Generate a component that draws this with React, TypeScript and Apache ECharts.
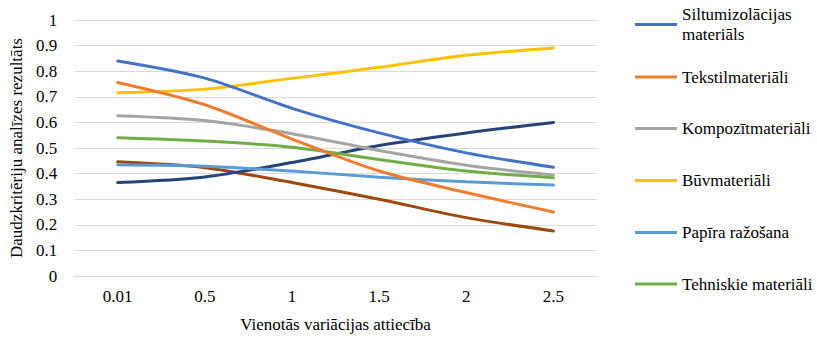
import React, { useEffect, useRef } from "react";
import * as echarts from "echarts";

const categories = ["0.01", "0.5", "1", "1.5", "2", "2.5"];

const siltumizolacijas = [0.84, 0.773, 0.655, 0.559, 0.481, 0.425];
const tekstil = [0.756, 0.669, 0.535, 0.41, 0.326, 0.25];
const kompozit = [0.626, 0.607, 0.556, 0.49, 0.433, 0.394];
const buv = [0.716, 0.73, 0.772, 0.815, 0.862, 0.891];
const papira = [0.435, 0.429, 0.41, 0.386, 0.368, 0.355];
const tehniskie = [0.54, 0.527, 0.503, 0.455, 0.41, 0.384];
const series7 = [0.365, 0.387, 0.443, 0.51, 0.559, 0.6];
const series8 = [0.446, 0.423, 0.365, 0.3, 0.228, 0.176];

const seriesNames = [
  "Siltumizolācijas materiāls",
  "Tekstilmateriāli",
  "Kompozītmateriāli",
  "Būvmateriāli",
  "Papīra ražošana",
  "Tehniskie materiāli",
  "Ķīmiskā rūpniecība",
  "Metālapstrāde",
];
const seriesData = [siltumizolacijas, tekstil, kompozit, buv, papira, tehniskie, series7, series8];
const colors = ["#4472C4", "#ED7D31", "#A5A5A5", "#FFC000", "#5B9BD5", "#70AD47", "#264478", "#9E480E"];
const legendCenters = [24.5, 77, 128.5, 180.5, 232.5, 284];

const FONT = "Liberation Serif";
const txt = { fontFamily: FONT, fontSize: 17, color: "#000", fontWeight: "normal", fontStyle: "normal" };

export default function App() {
  const ref = useRef<HTMLDivElement>(null);
  useEffect(() => {
    document.body.style.margin = "0";
    if (!ref.current) return;
    const chart = echarts.init(ref.current, undefined, { renderer: "svg" });
    const legends = seriesNames.slice(0, 6).map((name, i) => {
      const first = i === 0;
      return {
        show: true,
        data: [name],
        orient: "vertical" as const,
        left: 635,
        top: first ? legendCenters[i] - 30 : legendCenters[i] - 10,
        padding: 0,
        itemWidth: 42,
        itemHeight: 3,
        icon: "rect",
        selectedMode: false,
        formatter: first ? "Siltumizolācijas\nmateriāls" : "{name}",
        textStyle: {
          ...txt,
          lineHeight: 20,
          padding: first ? [20, 0, 0, 0] : 0,
        },
      };
    });
    chart.setOption({
      animation: false,
      color: colors,
      textStyle: { ...txt },
      grid: { left: 73, right: 220, top: 20, bottom: 61, containLabel: false },
      legend: legends,
      xAxis: {
        type: "category",
        data: categories,
        boundaryGap: true,
        name: "Vienotās variācijas attiecība",
        nameLocation: "middle",
        nameGap: 40,
        nameTextStyle: { ...txt },
        axisLine: { show: true, lineStyle: { color: "#D9D9D9", width: 1 } },
        axisTick: { show: false },
        axisLabel: { ...txt, margin: 12 },
      },
      yAxis: {
        type: "value",
        min: 0,
        max: 1,
        interval: 0.1,
        name: "Daudzkritēriju analīzes rezultāts",
        nameLocation: "middle",
        nameRotate: 90,
        nameGap: 45,
        nameTextStyle: { ...txt },
        axisLine: { show: false },
        axisTick: { show: false },
        splitLine: { show: true, lineStyle: { color: "#D9D9D9", width: 1 } },
        axisLabel: { ...txt, margin: 17 },
      },
      series: seriesNames.map((name, i) => ({
        name,
        type: "line",
        data: seriesData[i],
        smooth: 0.3,
        symbol: "none",
        showSymbol: false,
        lineStyle: { width: 3, color: colors[i], cap: "round" },
        itemStyle: { color: colors[i] },
        z: 10 - i,
      })),
    });
    return () => chart.dispose();
  }, []);
  return <div ref={ref} style={{ width: 817, height: 338 }} />;
}
